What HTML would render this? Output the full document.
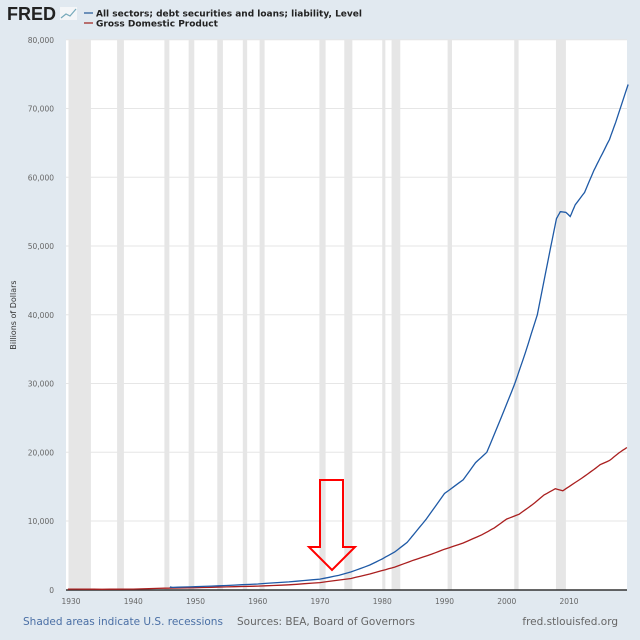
<!DOCTYPE html>
<html><head><meta charset="utf-8"><style>
body{margin:0;background:#e1e9f0;font-family:"DejaVu Sans","Liberation Sans",sans-serif;}
</style></head><body>
<svg id="s" width="640" height="640" xmlns="http://www.w3.org/2000/svg" style="display:block">
<rect width="640" height="640" fill="#e1e9f0"/>
<text x="7" y="20" font-family="Liberation Sans,sans-serif" font-weight="bold" font-size="18" fill="#222" textLength="49" lengthAdjust="spacingAndGlyphs">FRED</text>
<rect x="60" y="7" width="17" height="13" fill="#f4f6f8"/>
<polyline points="61,18 66,14 70,16 76,9" fill="none" stroke="#7ab" stroke-width="1.2"/>
<line x1="84" y1="13" x2="93" y2="13" stroke="#4572a7" stroke-width="1.5"/>
<text x="96" y="16.5" font-size="9" font-weight="bold" fill="#222">All sectors; debt securities and loans; liability, Level</text>
<line x1="84" y1="23" x2="93" y2="23" stroke="#aa4643" stroke-width="1.5"/>
<text x="96" y="26.5" font-size="9" font-weight="bold" fill="#222">Gross Domestic Product</text>
<rect x="66" y="40" width="561" height="550" fill="#fff"/>
<g id="rec" fill="#e6e6e6"></g>
<g id="grid" stroke="#e6e6e6" stroke-width="1"></g>
<g id="lab" font-size="7.5" fill="#666"></g>
<line x1="66" y1="590" x2="627" y2="590" stroke="#333" stroke-width="1.5"/>
<text transform="translate(16,315) rotate(-90)" text-anchor="middle" font-size="8" fill="#333">Billions of Dollars</text>
<polyline id="gdp" fill="none" stroke="#aa1f1f" stroke-width="1.3"/>
<polyline id="debt" fill="none" stroke="#1f5aa6" stroke-width="1.3"/>
<polygon points="320,480 343,480 343,547 355,547 332,570 309,547 320,547" fill="none" stroke="#f00" stroke-width="2"/>
<text x="23" y="625" font-size="10.5" fill="#4a6fa5">Shaded areas indicate U.S. recessions</text>
<text x="237" y="625" font-size="10.5" fill="#666">Sources: BEA, Board of Governors</text>
<text x="618" y="625" font-size="10.5" fill="#666" text-anchor="end">fred.stlouisfed.org</text>
</svg>
<script>
const NS="http://www.w3.org/2000/svg";
const X=y=>71+(y-1930)*6.225, Y=v=>589.8-v*0.006875;
function el(p,t,a,txt){const e=document.createElementNS(NS,t);for(const k in a)e.setAttribute(k,a[k]);if(txt)e.textContent=txt;document.getElementById(p).appendChild(e);}
[[1929.6,1933.2],[1937.4,1938.5],[1945,1945.8],[1948.9,1949.8],[1953.5,1954.4],[1957.6,1958.3],[1960.3,1961.1],[1969.9,1970.9],[1973.9,1975.2],[1980,1980.5],[1981.5,1982.9],[1990.5,1991.2],[2001.2,2001.9],[2007.9,2009.5]].forEach(r=>{const a=Math.max(66,X(r[0]));el("rec","rect",{x:a,y:40,width:X(r[1])-a,height:550});});
for(let v=10000;v<=80000;v+=10000)el("grid","line",{x1:66,x2:627,y1:Y(v),y2:Y(v)});
for(let v=0;v<=80000;v+=10000)el("lab","text",{x:54,y:Y(v)+3,"text-anchor":"end"},v.toLocaleString("en-US"));
for(let y=1930;y<=2010;y+=10)el("lab","text",{x:X(y),y:604,"text-anchor":"middle"},y);
function pts(d){let s=[];for(let i=0;i<d.length-1;i++){const[a,b]=[d[i],d[i+1]];for(let t=0;t<1;t+=0.25)s.push(X(a[0]+(b[0]-a[0])*t).toFixed(1)+","+Y(a[1]+(b[1]-a[1])*t).toFixed(1));}const l=d[d.length-1];s.push(X(l[0])+","+Y(l[1]));return s.join(" ");}
const debt=[[1945.9,300],[1946,400],[1946.3,350],[1950,450],[1955,620],[1960,850],[1965,1150],[1970,1550],[1973,2100],[1975,2600],[1978,3600],[1980,4500],[1982,5500],[1984,6900],[1985,8000],[1987,10200],[1990,14000],[1993,16000],[1995,18500],[1996.8,20000],[1999,24800],[2001.3,30000],[2003,34500],[2004.9,40000],[2006,45000],[2007.1,50000],[2008,54000],[2008.6,55000],[2009.5,54900],[2010.2,54300],[2011,56000],[2012.5,57800],[2014,61000],[2015,62800],[2016.5,65500],[2017.5,68000],[2019.5,73500]];
const gdp=[[1929.5,100],[1935,80],[1940,100],[1945,230],[1950,300],[1955,420],[1960,540],[1965,720],[1970,1050],[1975,1650],[1978,2300],[1980,2800],[1982,3300],[1985,4300],[1988,5200],[1990,5900],[1993,6800],[1996,8000],[1998,9000],[2000,10300],[2002,11000],[2004,12300],[2006,13800],[2007.8,14700],[2009,14400],[2010,15000],[2012,16200],[2014,17500],[2015,18200],[2016.5,18800],[2018,19900],[2019.3,20700]];
document.getElementById("debt").setAttribute("points",pts(debt));
document.getElementById("gdp").setAttribute("points",pts(gdp));
</script>
</body></html>
